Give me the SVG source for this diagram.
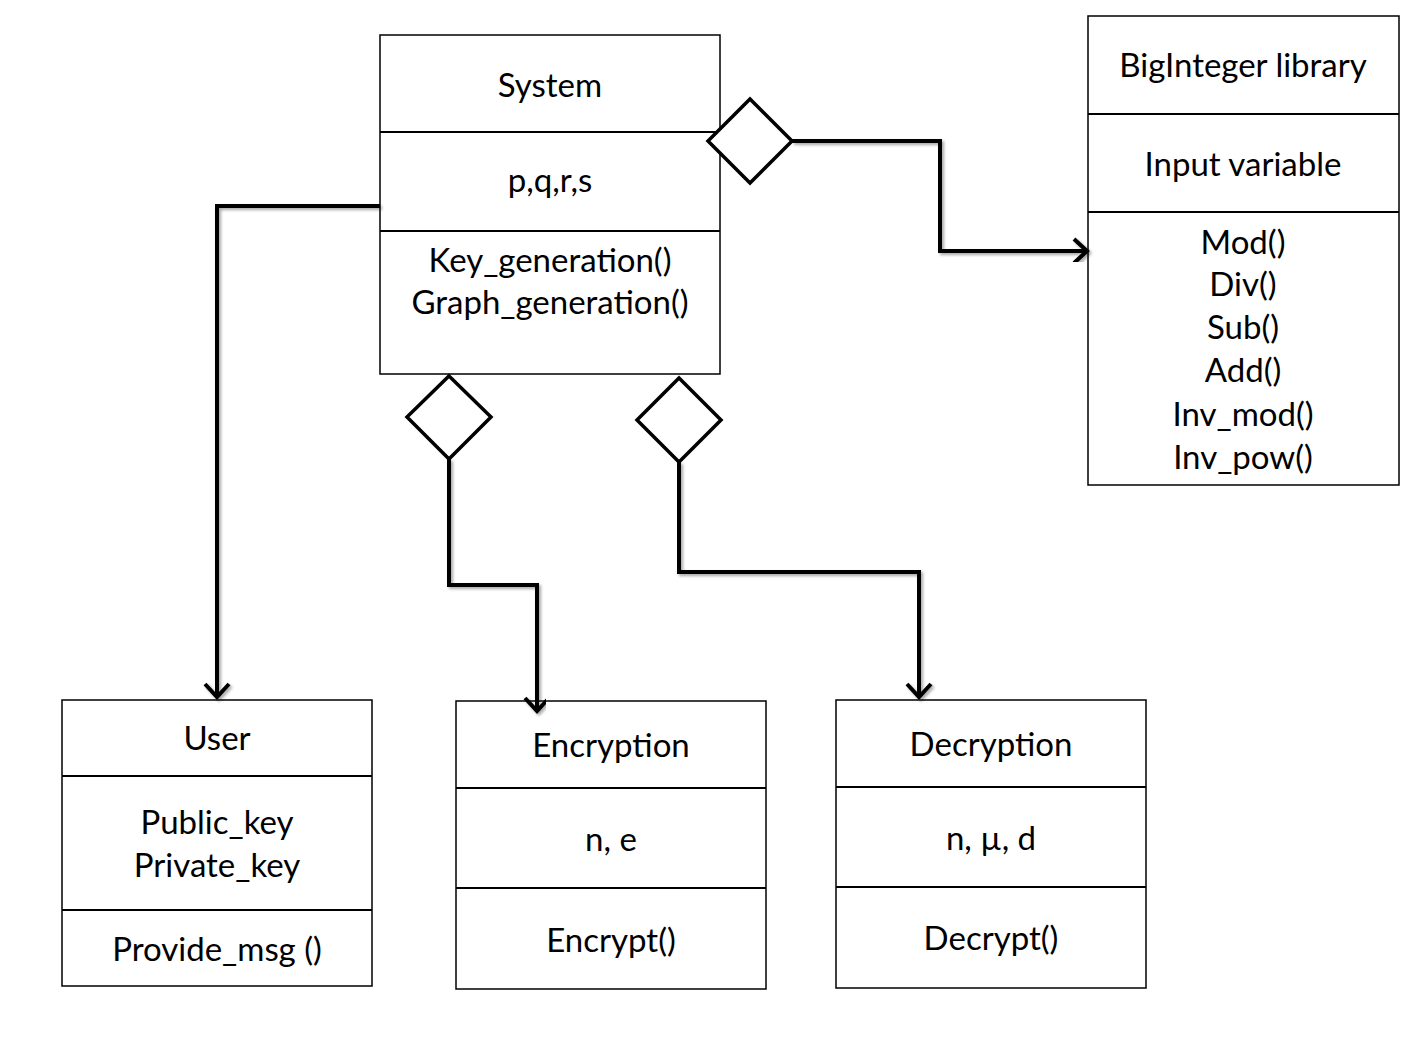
<svg xmlns="http://www.w3.org/2000/svg" width="1407" height="1061" viewBox="0 0 1407 1061">
<defs>
<style>
.box{fill:#fff;stroke:#000;stroke-width:1.5}
.div{stroke:#000;stroke-width:2}
.t{font-family:Lato,"Open Sans","Liberation Sans",sans-serif;font-size:33px;fill:#000;text-anchor:middle}
.conn{fill:none;stroke:#000;stroke-width:4;stroke-linejoin:miter}
.dia{fill:#fff;stroke:#000;stroke-width:3.5}
</style>
<marker id="arr" viewBox="0 0 18 28" refX="15" refY="14" markerWidth="18" markerHeight="28" markerUnits="userSpaceOnUse" orient="auto">
<polyline points="2,2 15,14 2,26" fill="none" stroke="#000" stroke-width="4"/>
</marker>
<filter id="sh" x="-10%" y="-10%" width="120%" height="120%">
<feGaussianBlur in="SourceAlpha" stdDeviation="1.5"/>
<feOffset dx="1.5" dy="2" result="b"/>
<feComponentTransfer><feFuncA type="linear" slope="0.35"/></feComponentTransfer>
<feMerge><feMergeNode/><feMergeNode in="SourceGraphic"/></feMerge>
</filter>
</defs>
<rect width="1407" height="1061" fill="#fff"/>

<g id="system">
<rect class="box" x="380" y="35" width="340" height="339"/>
<line class="div" x1="380" y1="132" x2="720" y2="132"/>
<line class="div" x1="380" y1="231" x2="720" y2="231"/>
<text class="t" x="550" y="97">System</text>
<text class="t" x="550" y="192">p,q,r,s</text>
<text class="t" x="550" y="272">Key_generation()</text>
<text class="t" x="550" y="314">Graph_generation()</text>
</g>

<g id="biginteger">
<rect class="box" x="1088" y="16" width="311" height="469"/>
<line class="div" x1="1088" y1="114" x2="1399" y2="114"/>
<line class="div" x1="1088" y1="212" x2="1399" y2="212"/>
<text class="t" x="1243" y="77">BigInteger library</text>
<text class="t" x="1243" y="176">Input variable</text>
<text class="t" x="1243" y="254">Mod()</text>
<text class="t" x="1243" y="296">Div()</text>
<text class="t" x="1243" y="339">Sub()</text>
<text class="t" x="1243" y="382">Add()</text>
<text class="t" x="1243" y="426">Inv_mod()</text>
<text class="t" x="1243" y="469">Inv_pow()</text>
</g>

<g id="user">
<rect class="box" x="62" y="700" width="310" height="286"/>
<line class="div" x1="62" y1="776" x2="372" y2="776"/>
<line class="div" x1="62" y1="910" x2="372" y2="910"/>
<text class="t" x="217" y="750">User</text>
<text class="t" x="217" y="834">Public_key</text>
<text class="t" x="217" y="877">Private_key</text>
<text class="t" x="217" y="961">Provide_msg ()</text>
</g>

<g id="encryption">
<rect class="box" x="456" y="701" width="310" height="288"/>
<line class="div" x1="456" y1="788" x2="766" y2="788"/>
<line class="div" x1="456" y1="888" x2="766" y2="888"/>
<text class="t" x="611" y="757">Encryption</text>
<text class="t" x="611" y="851">n, e</text>
<text class="t" x="611" y="952">Encrypt()</text>
</g>

<g id="decryption">
<rect class="box" x="836" y="700" width="310" height="288"/>
<line class="div" x1="836" y1="787" x2="1146" y2="787"/>
<line class="div" x1="836" y1="887" x2="1146" y2="887"/>
<text class="t" x="991" y="756">Decryption</text>
<text class="t" x="991" y="850">n, µ, d</text>
<text class="t" x="991" y="950">Decrypt()</text>
</g>

<g id="connectors">
<path class="conn" filter="url(#sh)" d="M380,206 H217 V697" marker-end="url(#arr)"/>
<path class="conn" filter="url(#sh)" d="M449,459 V585 H537 V711" marker-end="url(#arr)"/>
<path class="conn" filter="url(#sh)" d="M679,462 V572 H919 V697" marker-end="url(#arr)"/>
<path class="conn" filter="url(#sh)" d="M792,141 H940 V251 H1087" marker-end="url(#arr)"/>
</g>

<g id="diamonds">
<polygon class="dia" points="750,99 792,141 750,183 708,141"/>
<polygon class="dia" points="449,376 491,417 449,459 407,417"/>
<polygon class="dia" points="679,378 721,420 679,462 637,420"/>
</g>
</svg>
